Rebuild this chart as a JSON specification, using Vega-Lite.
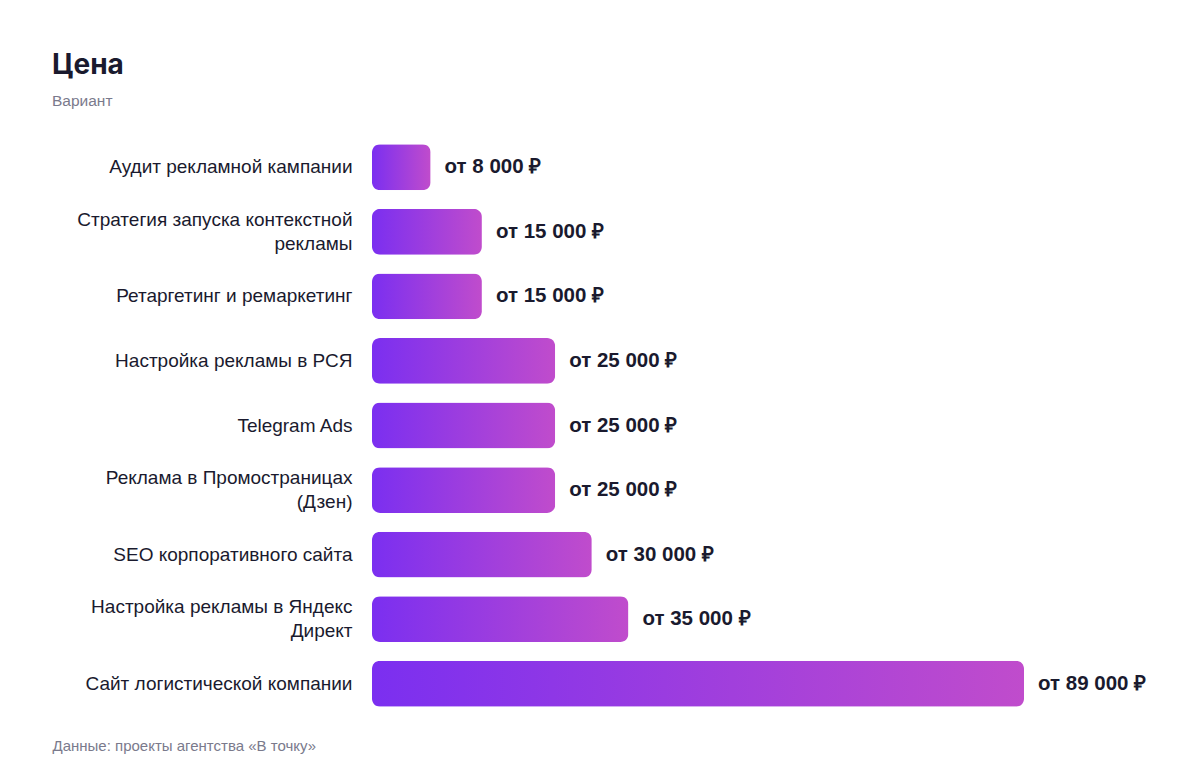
{
  "$schema": "https://vega.github.io/schema/vega-lite/v6.json",
  "width": 652,
  "height": 581,
  "autosize": "none",
  "padding": {"left": 372, "top": 135, "right": 176, "bottom": 60},
  "background": "#ffffff",
  "title": {
    "text": "Цена",
    "subtitle": "Вариант",
    "anchor": "start",
    "frame": "group",
    "dx": -320,
    "offset": 26,
    "font": "Inter",
    "fontSize": 28,
    "fontWeight": "bold",
    "color": "#1a1a2e",
    "subtitleFont": "Liberation Sans",
    "subtitleFontSize": 15.5,
    "subtitleColor": "#7a7a8c",
    "subtitlePadding": 14
  },
  "data": {
    "values": [
      {"service": "Аудит рекламной кампании", "price": 8000},
      {"service": "Стратегия запуска контекстной\nрекламы", "price": 15000},
      {"service": "Ретаргетинг и ремаркетинг", "price": 15000},
      {"service": "Настройка рекламы в РСЯ", "price": 25000},
      {"service": "Telegram Ads", "price": 25000},
      {"service": "Реклама в Промостраницах\n(Дзен)", "price": 25000},
      {"service": "SEO корпоративного сайта", "price": 30000},
      {"service": "Настройка рекламы в Яндекс\nДирект", "price": 35000},
      {"service": "Сайт логистической компании", "price": 89000}
    ]
  },
  "encoding": {
    "y": {
      "field": "service",
      "type": "nominal",
      "sort": null,
      "title": null,
      "scale": {"paddingInner": 0.29, "paddingOuter": 0.145},
      "axis": {
        "domain": false,
        "ticks": false,
        "labelPadding": 20,
        "labelFont": "Liberation Sans",
        "labelFontSize": 19,
        "labelColor": "#1a1a2e",
        "labelLimit": 400,
        "labelLineHeight": 24,
        "labelOffset": {"condition": {"test": "indexof(datum.value, '\\n') >= 0", "value": -12}, "value": 0},
        "labelExpr": "split(datum.label, '\\n')"
      }
    },
    "x": {
      "field": "price",
      "type": "quantitative",
      "scale": {"domain": [0, 89000], "nice": false},
      "axis": {
        "grid": false,
        "domain": false,
        "ticks": false,
        "labels": false,
        "title": "Данные: проекты агентства «В точку»",
        "titleAnchor": "start",
        "titleX": -320,
        "titleY": 34,
        "titleBaseline": "alphabetic",
        "titleFont": "Liberation Sans",
        "titleFontSize": 15,
        "titleFontWeight": "normal",
        "titleColor": "#7a7a8c"
      }
    }
  },
  "layer": [
    {
      "mark": {
        "type": "bar",
        "cornerRadius": 8,
        "color": {
          "gradient": "linear",
          "x1": 0, "y1": 0, "x2": 1, "y2": 0,
          "stops": [
            {"offset": 0, "color": "#7b2ff0"},
            {"offset": 1, "color": "#c04ccc"}
          ]
        }
      }
    },
    {
      "mark": {
        "type": "text",
        "align": "left",
        "baseline": "middle",
        "dx": 14,
        "font": "Liberation Sans",
        "fontSize": 20.5,
        "fontWeight": "bold",
        "color": "#1a1a2e"
      },
      "encoding": {
        "text": {"field": "price", "type": "quantitative", "format": "$,d"}
      }
    }
  ],
  "config": {
    "view": {"stroke": null},
    "locale": {
      "number": {
        "decimal": ",",
        "thousands": " ",
        "grouping": [3],
        "currency": ["от ", " ₽"]
      }
    }
  }
}
